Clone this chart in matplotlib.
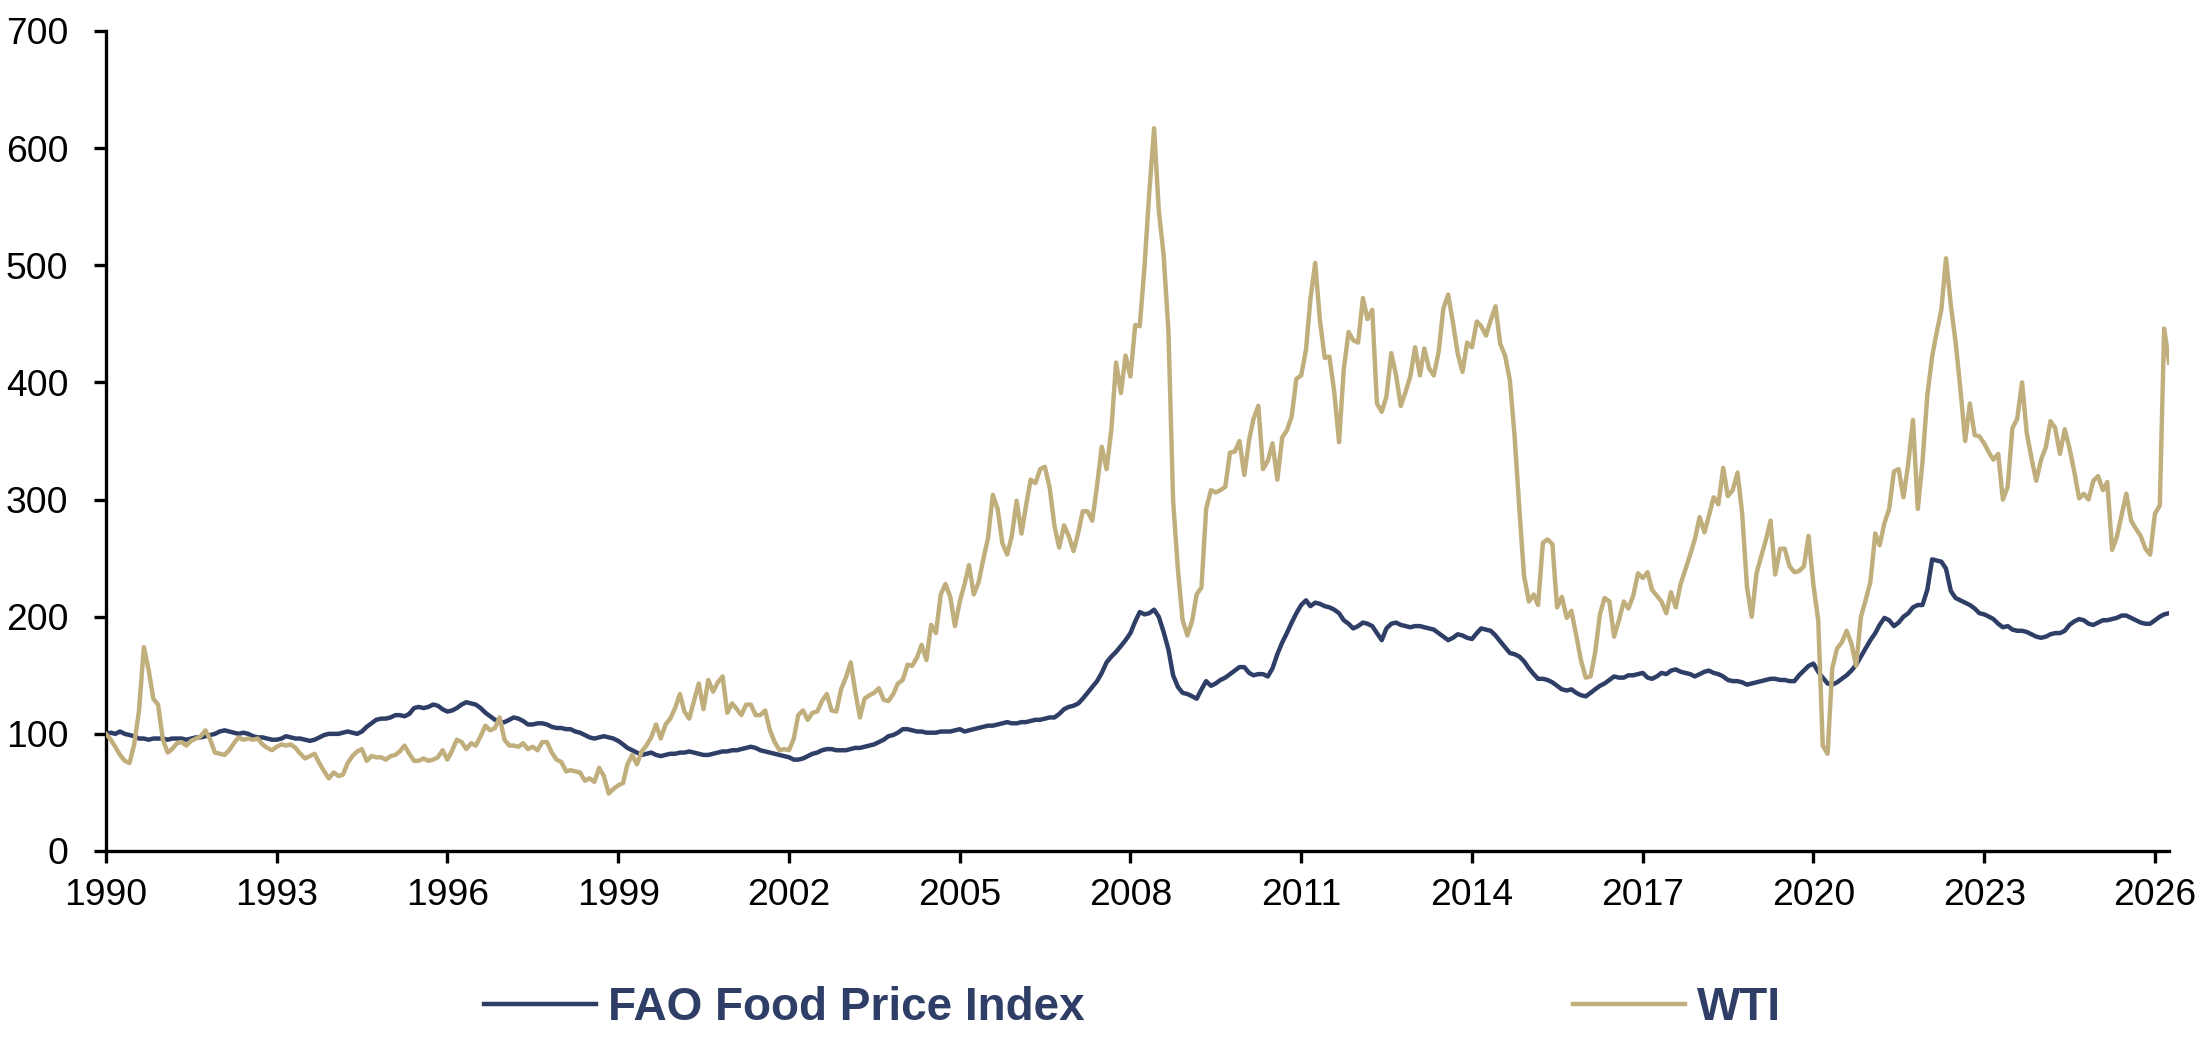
import matplotlib
matplotlib.use("Agg")
import matplotlib.pyplot as plt
import pandas as pd

NAVY = "#2F3E66"
GOLD = "#C0AF7C"

# monthly values, Jan 1990 = 100, one row per year (1990 ... 2026)
fao = [
    100, 101, 100, 102, 100, 99, 98, 96, 96, 95, 96, 96,
    96, 95, 96, 96, 96, 95, 96, 97, 97, 98, 99, 100,
    102, 103, 102, 101, 100, 101, 100, 98, 97, 97, 96, 95,
    95, 96, 98, 97, 96, 96, 95, 94, 95, 97, 99, 100,
    100, 100, 101, 102, 101, 100, 102, 106, 109, 112, 113, 113,
    114, 116, 116, 115, 117, 122, 123, 122, 123, 125, 124, 121,
    119, 120, 122, 125, 127, 126, 125, 122, 118, 115, 112, 110,
    110, 112, 114, 113, 111, 108, 108, 109, 109, 108, 106, 105,
    105, 104, 104, 102, 101, 99, 97, 96, 97, 98, 97, 96,
    94, 91, 88, 86, 84, 82, 83, 84, 82, 81, 82, 83,
    83, 84, 84, 85, 84, 83, 82, 82, 83, 84, 85, 85,
    86, 86, 87, 88, 89, 88, 86, 85, 84, 83, 82, 81,
    80, 78, 78, 79, 81, 83, 84, 86, 87, 87, 86, 86,
    86, 87, 88, 88, 89, 90, 91, 93, 95, 98, 99, 101,
    104, 104, 103, 102, 102, 101, 101, 101, 102, 102, 102, 103,
    104, 102, 103, 104, 105, 106, 107, 107, 108, 109, 110, 109,
    109, 110, 110, 111, 112, 112, 113, 114, 114, 117, 121, 123,
    124, 126, 130, 135, 140, 145, 152, 161, 166, 170, 175, 180,
    186, 196, 204, 202, 203, 206, 200, 187, 172, 150, 140, 135,
    134, 132, 130, 138, 145, 141, 143, 146, 148, 151, 154, 157,
    157, 152, 150, 151, 151, 149, 156, 168, 178, 186, 195, 203,
    210, 214, 209, 212, 211, 209, 208, 206, 203, 197, 194, 190,
    192, 195, 194, 192, 186, 180, 190, 194, 195, 193, 192, 191,
    192, 192, 191, 190, 189, 186, 183, 180, 182, 185, 184, 182,
    181, 186, 190, 189, 188, 184, 179, 174, 169, 168, 166, 162,
    156, 151, 147, 147, 146, 144, 141, 138, 137, 138, 135, 133,
    132, 135, 138, 141, 143, 146, 149, 148, 148, 150, 150, 151,
    152, 148, 147, 149, 152, 151, 154, 155, 153, 152, 151, 149,
    151, 153, 154, 152, 151, 149, 146, 145, 145, 144, 142, 143,
    144, 145, 146, 147, 147, 146, 146, 145, 145, 150, 154, 158,
    160, 153, 148, 143, 142, 144, 147, 150, 154, 159, 166, 173,
    180, 186, 193, 199, 197, 192, 195, 200, 203, 208, 210, 210,
    223, 249, 248, 247, 241, 222, 216, 214, 212, 210, 207, 203,
    202, 200, 198, 194, 191, 192, 189, 188, 188, 187, 185, 183,
    182, 183, 185, 186, 186, 188, 193, 196, 198, 197, 194, 193,
    195, 197, 197, 198, 199, 201, 201, 199, 197, 195, 194, 194,
    197, 200, 202, 203,
]

wti = [
    100, 95, 89, 82, 77, 75, 91, 120, 174, 155, 130, 125,
    95, 84, 87, 92, 93, 90, 94, 96, 98, 103, 95, 84,
    83, 82, 86, 92, 97, 95, 96, 95, 96, 91, 88, 86,
    89, 91, 90, 91, 88, 83, 79, 81, 83, 75, 68, 62,
    67, 64, 65, 75, 81, 85, 87, 77, 81, 80, 80, 78,
    81, 82, 85, 90, 83, 77, 77, 79, 77, 78, 80, 86,
    78, 86, 95, 93, 87, 92, 90, 98, 107, 103, 105, 114,
    95, 90, 90, 89, 92, 87, 89, 86, 93, 93, 84, 78,
    76, 68, 69, 68, 67, 60, 62, 59, 71, 64, 49, 53,
    56, 58, 74, 82, 74, 85, 90, 97, 108, 96, 108, 113,
    122, 134, 119, 113, 128, 143, 121, 146, 136, 144, 149, 118,
    126, 121, 116, 125, 125, 116, 116, 120, 103, 93, 86, 87,
    86, 96, 116, 120, 112, 118, 119, 128, 134, 120, 119, 138,
    148, 161, 137, 114, 130, 133, 135, 139, 129, 128, 134, 143,
    146, 159, 158, 165, 176, 163, 193, 186, 219, 228, 217, 192,
    213, 228, 244, 219, 229, 249, 267, 304, 292, 263, 253, 269,
    299, 271, 294, 317, 314, 326, 328, 310, 277, 259, 278, 269,
    256, 272, 290, 290, 282, 312, 345, 326, 360, 417, 391, 423,
    405, 449, 448, 500, 562, 617, 547, 509, 444, 299, 240, 197,
    184, 197, 219, 225, 292, 308, 306, 308, 311, 340, 341, 350,
    321, 351, 369, 380, 326, 333, 348, 317, 353, 359, 371, 403,
    406, 428, 471, 502, 453, 421, 422, 392, 349, 411, 443, 436,
    434, 472, 454, 462, 382, 375, 388, 425, 406, 380, 392, 405,
    430, 406, 429, 412, 406, 426, 463, 475, 451, 425, 409, 434,
    430, 452, 448, 440, 453, 465, 433, 423, 402, 355, 292, 235,
    213, 219, 210, 263, 266, 262, 208, 217, 199, 205, 184, 163,
    148, 149, 169, 202, 216, 213, 183, 197, 213, 207, 218, 237,
    233, 238, 223, 218, 213, 203, 221, 208, 228, 240, 253, 266,
    285, 272, 286, 302, 296, 327, 303, 308, 323, 288, 225, 200,
    237, 252, 265, 282, 236, 258, 258, 243, 238, 239, 243, 269,
    227, 197, 90, 83, 156, 173, 178, 188, 177, 158, 200, 214,
    230, 271, 261, 280, 292, 324, 326, 302, 331, 368, 292, 332,
    389, 422, 442, 462, 506, 466, 435, 395, 350, 382, 355, 354,
    348, 340, 334, 339, 300, 311, 361, 369, 400, 357, 335, 316,
    334, 345, 367, 361, 339, 360, 344, 324, 301, 305, 300, 316,
    320, 308, 315, 257, 268, 287, 305, 282, 275, 269, 258, 253,
    288, 295, 446, 417,
]

year_ticks = list(range(1990, 2027, 3))
value_ticks = [0, 100, 200, 300, 400, 500, 600, 700]
series_names = ["FAO Food Price Index", "WTI"]

dates = pd.date_range("1990-01-01", periods=len(fao), freq="MS")

plt.rcParams["font.family"] = ["Liberation Sans", "DejaVu Sans"]

fig = plt.figure(figsize=(22.12, 10.48), dpi=100)
ax = fig.add_axes([106 / 2212, 1 - 851 / 1048, (2169 - 106) / 2212, (851 - 31) / 1048])

line_fao, = ax.plot(dates, fao, color=NAVY, lw=3.2, zorder=2)
line_wti, = ax.plot(dates, wti, color=GOLD, lw=3.2, zorder=3)

ax.set_xlim(dates[0], dates[-1])
ax.set_ylim(0, 700)
ax.set_xticks([pd.Timestamp(f"{y}-01-01") for y in year_ticks])
ax.set_xticklabels([str(y) for y in year_ticks])
ax.set_yticks(value_ticks)
ax.set_yticklabels([str(v) for v in value_ticks])

for side in ["top", "right"]:
    ax.spines[side].set_visible(False)
for side in ["left", "bottom"]:
    ax.spines[side].set_linewidth(2.4)
    ax.spines[side].set_color("black")

ax.tick_params(direction="out", length=8.6, width=2.4, labelsize=26.8, colors="black")
ax.tick_params(axis="x", pad=11)
ax.tick_params(axis="y", pad=18.5)

legend_font = {"size": 33, "weight": "bold"}
fig.legend([line_fao], [series_names[0]], loc="center left",
           bbox_to_anchor=(484 / 2212, 1 - 1008 / 1048), frameon=False,
           prop=legend_font, labelcolor=NAVY, handlelength=2.44,
           handletextpad=0.26, borderpad=0, borderaxespad=0)
fig.legend([line_wti], [series_names[1]], loc="center left",
           bbox_to_anchor=(1573 / 2212, 1 - 1008 / 1048), frameon=False,
           prop=legend_font, labelcolor=NAVY, handlelength=2.44,
           handletextpad=0.26, borderpad=0, borderaxespad=0)

fig.savefig("out.png", dpi=100)
